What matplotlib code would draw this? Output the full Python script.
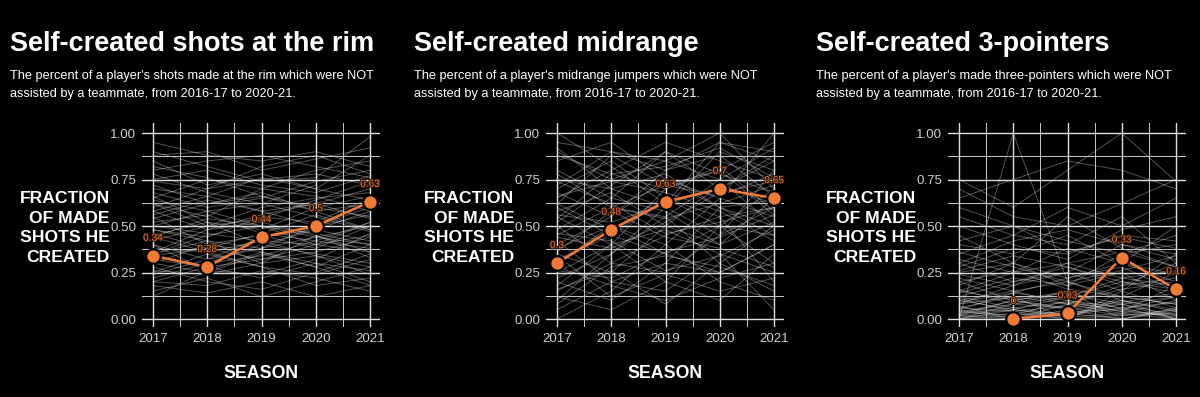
import numpy as np
import matplotlib.pyplot as plt
import matplotlib.patheffects as pe

plt.rcParams['font.family'] = ['Liberation Sans', 'DejaVu Sans']

seasons = [2017, 2018, 2019, 2020, 2021]
nan = np.nan

titles = ['Self-created shots at the rim', 'Self-created midrange', 'Self-created 3-pointers']
subtitles = [
    ["The percent of a player's shots made at the rim which were NOT",
     "assisted by a teammate, from 2016-17 to 2020-21."],
    ["The percent of a player's midrange jumpers which were NOT",
     "assisted by a teammate, from 2016-17 to 2020-21."],
    ["The percent of a player's made three-pointers which were NOT",
     "assisted by a teammate, from 2016-17 to 2020-21."],
]

# highlighted player, one value per season
rim_main = [0.34, 0.28, 0.44, 0.50, 0.63]
mid_main = [0.30, 0.48, 0.63, 0.70, 0.65]
three_main = [nan, 0.00, 0.03, 0.33, 0.16]
main_labels = [
    ['0.34', '0.28', '0.44', '0.5', '0.63'],
    ['0.3', '0.48', '0.63', '0.7', '0.65'],
    ['', '0', '0.03', '0.33', '0.16'],
]

# rest of the league (rough reading of the grey spaghetti)
rim_others = [
    [0.95, 0.88, 0.85, 0.90, 0.82], [0.62, 0.55, 0.70, 0.66, 0.58],
    [0.30, 0.25, 0.35, 0.28, 0.40], [0.45, 0.52, 0.48, 0.60, 0.55],
    [0.20, 0.18, 0.26, 0.22, 0.15], [0.75, 0.80, 0.72, 0.68, 0.77],
    [0.55, 0.40, 0.45, 0.38, 0.50], [0.35, 0.42, 0.30, 0.45, 0.33],
    [0.68, 0.60, 0.65, 0.74, 0.80], [0.15, 0.22, 0.12, 0.20, 0.28],
    [0.85, 0.72, 0.78, 0.70, 0.88], [0.50, 0.58, 0.62, 0.55, 0.47],
    [0.40, 0.32, 0.38, 0.50, 0.60], [0.25, 0.35, 0.28, 0.18, 0.22],
    [0.80, 0.85, 0.88, 0.82, 0.76], [0.58, 0.48, 0.52, 0.45, 0.36],
    [0.32, 0.28, 0.22, 0.30, 0.26], [0.70, 0.66, 0.58, 0.62, 0.70],
    [0.48, 0.44, 0.55, 0.52, 0.65], [0.22, 0.30, 0.40, 0.35, 0.30],
    [0.88, 0.90, 0.80, 0.86, 0.92], [0.60, 0.70, 0.75, 0.78, 0.72],
    [0.38, 0.36, 0.42, 0.40, 0.45], [0.28, 0.20, 0.16, 0.25, 0.35],
    [0.72, 0.62, 0.68, 0.58, 0.62], [0.52, 0.56, 0.46, 0.42, 0.52],
    [0.42, 0.50, 0.60, 0.65, 0.68], [0.18, 0.14, 0.20, 0.12, 0.18],
    [0.65, 0.75, 0.70, 0.80, 0.85], [0.35, 0.45, 0.50, 0.46, 0.40],
    [nan, 0.30, 0.34, 0.42, 0.38], [0.78, 0.68, 0.62, 0.72, nan],
    [0.46, 0.38, 0.32, 0.36, 0.44], [0.56, 0.64, 0.58, 0.50, 0.56],
    [0.26, 0.24, 0.30, 0.34, 0.24], [0.90, 0.82, 0.74, 0.76, 0.98],
    [0.12, 0.26, 0.36, 0.30, 0.20], [0.66, 0.52, 0.40, 0.48, 0.58],
    [0.44, 0.36, 0.28, 0.24, 0.32], [0.36, 0.48, 0.56, 0.62, 0.54],
    [0.54, 0.62, 0.66, 0.58, 0.48], [0.24, 0.32, 0.44, 0.48, 0.42],
    [0.64, 0.58, 0.50, 0.44, 0.40], [0.82, 0.76, 0.66, 0.60, 0.66],
    [0.30, 0.40, 0.36, 0.28, 0.18], [0.48, 0.42, 0.38, 0.44, 0.50],
    [0.58, 0.66, 0.76, 0.70, 0.64], [0.40, 0.26, 0.24, 0.32, 0.46],
    [0.74, 0.70, 0.82, 0.88, 0.78], [0.20, 0.28, 0.32, 0.40, 0.52],
    [0.50, 0.46, 0.42, 0.34, 0.28], [0.62, 0.50, 0.54, 0.64, 0.74],
    [0.34, 0.38, 0.46, 0.56, 0.48], [0.44, 0.54, 0.50, 0.40, 0.36],
]
mid_others = [
    [0.10, 0.35, 0.60, 0.45, 0.80], [0.90, 0.75, 0.85, 1.00, 0.70],
    [0.30, 0.50, 0.40, 0.65, 0.55], [0.55, 0.40, 0.70, 0.80, 0.95],
    [0.70, 0.85, 0.65, 0.55, 0.60], [0.20, 0.10, 0.30, 0.25, 0.40],
    [0.45, 0.60, 0.55, 0.75, 0.50], [0.80, 0.65, 0.90, 0.70, 0.85],
    [0.05, 0.20, 0.15, 0.35, 0.25], [0.60, 0.45, 0.35, 0.50, 0.30],
    [0.35, 0.25, 0.50, 0.40, 0.65], [0.95, 0.90, 0.80, 0.95, 0.90],
    [0.40, 0.55, 0.75, 0.60, 0.45], [0.25, 0.40, 0.20, 0.10, 0.35],
    [0.65, 0.80, 0.95, 0.85, 0.75], [0.50, 0.30, 0.45, 0.55, 0.20],
    [0.15, 0.30, 0.25, 0.45, 0.60], [0.75, 0.70, 0.60, 0.90, 0.80],
    [0.85, 0.95, 0.75, 0.65, 1.00], [0.00, 0.15, 0.40, 0.20, 0.10],
    [0.58, 0.68, 0.50, 0.72, 0.62], [0.32, 0.45, 0.65, 0.50, 0.70],
    [0.42, 0.20, 0.30, 0.60, 0.50], [0.68, 0.55, 0.80, 0.88, 0.66],
    [0.22, 0.35, 0.55, 0.30, 0.15], [0.88, 0.78, 0.70, 0.82, 0.58],
    [0.48, 0.65, 0.58, 0.40, 0.52], [0.12, 0.05, 0.20, 0.50, 0.45],
    [0.72, 0.90, 0.85, 0.75, 0.92], [0.38, 0.50, 0.35, 0.25, 0.40],
    [nan, 0.60, 0.72, 0.66, 0.78], [0.62, 0.48, 0.66, nan, nan],
    [0.28, 0.18, 0.10, 0.22, 0.30], [0.52, 0.72, 0.90, 0.78, 0.68],
    [1.00, 0.82, 0.62, 0.95, 0.85], [0.18, 0.40, 0.48, 0.35, 0.05],
    [0.44, 0.38, 0.52, 0.68, 0.74], [0.66, 0.74, 0.68, 0.58, 0.42],
    [0.26, 0.22, 0.36, 0.44, 0.56], [0.78, 0.60, 0.54, 0.62, 0.72],
    [0.36, 0.58, 0.44, 0.38, 0.28], [0.56, 0.52, 0.62, 0.70, 0.88],
    [0.08, 0.28, 0.34, 0.28, 0.18], [0.92, 0.70, 0.78, 0.60, 0.64],
    [0.46, 0.42, 0.26, 0.34, 0.48], [0.62, 0.88, 0.72, 0.80, 0.56],
    [0.34, 0.12, 0.24, 0.15, 0.22], [0.74, 0.62, 0.46, 0.52, 0.60],
    [0.54, 0.78, 0.82, 0.92, 0.76], [0.16, 0.26, 0.08, 0.30, 0.50],
]
three_others = [
    [0.00, 0.05, 0.02, 0.10, 0.00], [0.10, 0.15, 0.20, 0.12, 0.25],
    [0.25, 0.30, 0.18, 0.35, 0.40], [0.05, 0.00, 0.08, 0.03, 0.10],
    [0.40, 0.35, 0.45, 0.30, 0.50], [0.02, 0.10, 0.05, 0.00, 0.04],
    [0.15, 0.25, 0.30, 0.22, 0.18], [0.30, 0.20, 0.25, 0.40, 0.35],
    [0.00, 0.00, 0.05, 0.08, 0.02], [0.55, 0.45, 0.60, 0.50, 0.65],
    [0.08, 0.12, 0.00, 0.15, 0.06], [0.20, 0.10, 0.15, 0.05, 0.12],
    [0.35, 0.45, 0.40, 0.55, 0.30], [0.04, 0.02, 0.10, 0.06, 0.00],
    [0.12, 0.20, 0.28, 0.18, 0.22], [0.70, 0.55, 0.50, 0.62, 0.75],
    [0.00, 0.08, 0.15, 0.00, 0.05], [0.18, 0.30, 0.22, 0.28, 0.15],
    [0.06, 0.04, 0.00, 0.12, 0.08], [0.28, 0.38, 0.35, 0.45, 0.42],
    [0.45, 0.30, 0.55, 0.38, 0.28], [0.10, 0.05, 0.12, 0.20, 0.16],
    [0.02, 0.00, 0.03, 0.00, 0.06], [0.22, 0.15, 0.08, 0.18, 0.30],
    [0.65, 0.75, 0.85, 0.80, 0.70], [0.50, 0.40, 0.32, 0.48, 0.55],
    [0.14, 0.22, 0.18, 0.25, 0.10], [0.00, 1.00, 0.20, 0.10, 0.05],
    [0.32, 0.25, 0.38, 0.30, 0.20], [0.08, 0.18, 0.25, 0.15, 0.35],
    [0.60, 0.50, 0.42, 0.35, 0.45], [0.03, 0.06, 0.02, 0.08, 0.00],
    [0.16, 0.08, 0.12, 0.22, 0.26], [0.75, 0.60, 0.80, 1.00, 0.74],
    [0.26, 0.34, 0.28, 0.20, 0.14], [0.05, 0.14, 0.10, 0.04, 0.18],
    [0.01, 0.03, 0.00, 0.02, 0.05], [0.04, 0.08, 0.06, 0.02, 0.03],
    [0.00, 0.02, 0.04, 0.05, 0.01], [0.07, 0.00, 0.02, 0.06, 0.09],
    [0.12, 0.06, 0.09, 0.04, 0.02], [0.03, 0.10, 0.14, 0.08, 0.12],
    [0.20, 0.26, 0.16, 0.12, 0.08], [0.09, 0.14, 0.22, 0.30, 0.24],
    [0.36, 0.28, 0.20, 0.26, 0.34], [0.06, 0.12, 0.08, 0.16, 0.20],
    [0.24, 0.18, 0.30, 0.36, 0.28], [0.42, 0.50, 0.36, 0.44, 0.38],
    [0.02, 0.05, 0.01, 0.03, 0.00], [0.15, 0.10, 0.06, 0.09, 0.14],
    [0.30, 0.42, 0.48, 0.40, 0.32], [0.11, 0.04, 0.07, 0.10, 0.04],
]

mains = [rim_main, mid_main, three_main]
others = [rim_others, mid_others, three_others]

orange = '#f07a36'
W, H = 1200, 397
fig = plt.figure(figsize=(W / 100, H / 100), dpi=100, facecolor='black')

panel_left = [142, 546, 948]
ax_w, ax_top, ax_bot = 238, 123, 327

for i in range(3):
    x0 = panel_left[i]
    ax = fig.add_axes([x0 / W, 1 - ax_bot / H, ax_w / W, (ax_bot - ax_top) / H])
    ax.set_facecolor('black')
    for s in ax.spines.values():
        s.set_visible(False)

    for row in others[i]:
        ax.plot(seasons, row, color='white', alpha=0.33, lw=0.7, zorder=1)

    ax.set_xlim(2016.797, 2021.184)
    ax.set_ylim(-0.043, 1.054)
    ax.set_xticks(seasons)
    ax.set_xticks([2017.5, 2018.5, 2019.5, 2020.5], minor=True)
    ax.set_yticks([0, 0.25, 0.5, 0.75, 1.0])
    ax.set_yticks([0.125, 0.375, 0.625, 0.875], minor=True)
    ax.set_yticklabels(['0.00', '0.25', '0.50', '0.75', '1.00'])
    ax.grid(which='major', color='#e0e0e0', lw=1.0, zorder=2)
    ax.grid(which='minor', color='#c4c4c4', lw=0.75, zorder=2)
    ax.set_axisbelow(False)
    ax.tick_params(which='both', length=0, labelsize=9.6, labelcolor='#cfcfcf', pad=4)

    y = np.array(mains[i], dtype=float)
    ax.plot(seasons, y, color=orange, lw=1.8, zorder=4)
    ax.plot(seasons, y, 'o', ms=10.5, mfc=orange, mec='black', mew=1.6, zorder=5)
    for xs, ys, lab in zip(seasons, y, main_labels[i]):
        if lab:
            t = ax.annotate(lab, (xs, ys), xytext=(0, 13), textcoords='offset points',
                            ha='center', va='center', fontsize=7.3, color=orange, zorder=6)
            t.set_path_effects([pe.withStroke(linewidth=1.5, foreground='#2a1208')])

    # titles
    tx = (x0 - 132) / W
    fig.text(tx, 1 - 51 / H, titles[i], fontsize=19.5, fontweight='bold', color='white',
             va='baseline', ha='left')
    fig.text(tx, 1 - 79 / H, subtitles[i][0], fontsize=9.2, color='white', va='baseline')
    fig.text(tx, 1 - 97 / H, subtitles[i][1], fontsize=9.2, color='white', va='baseline')

    # y label, one line each
    for k, line in enumerate(['FRACTION', 'OF MADE', 'SHOTS HE', 'CREATED']):
        fig.text((x0 - 32) / W, 1 - (203.5 + 19.4 * k) / H, line, fontsize=12.6,
                 fontweight='bold', color='white', ha='right', va='baseline')

    fig.text((x0 + ax_w / 2) / W, 1 - 378 / H, 'SEASON', fontsize=12.8,
             fontweight='bold', color='white', ha='center', va='baseline')

fig.savefig('out.png', dpi=100, facecolor='black')
